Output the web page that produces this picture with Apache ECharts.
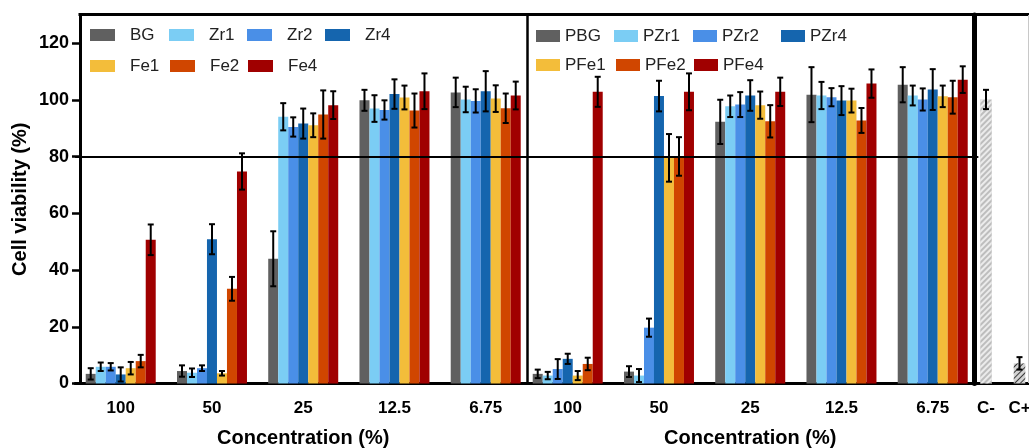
<!DOCTYPE html>
<html>
<head>
<meta charset="utf-8">
<script src="https://cdn.jsdelivr.net/npm/echarts@6/dist/echarts.min.js"></script>
<style>
html,body{margin:0;padding:0;background:#fff;}
#chart{width:1029px;height:448px;}
</style>
</head>
<body>
<div id="chart"></div>
<script>
// ---------------- DATA ----------------
const categories = ['100', '50', '25', '12.5', '6.75'];
const controlCategories = ['C-', 'C+'];
const yTicks = [0, 20, 40, 60, 80, 100, 120];
const thresholdValue = 80;

const leftNames = ['BG', 'Zr1', 'Zr2', 'Zr4', 'Fe1', 'Fe2', 'Fe4'];
const midNames = ['PBG', 'PZr1', 'PZr2', 'PZr4', 'PFe1', 'PFe2', 'PFe4'];

const BG   = [3.4, 4.4, 44.0, 99.9, 102.7];
const Zr1  = [5.9, 3.8, 94.1, 97.0, 100.2];
const Zr2  = [5.9, 5.4, 90.5, 96.5, 99.7];
const Zr4  = [3.2, 50.9, 91.7, 102.1, 103.1];
const Fe1  = [5.4, 3.6, 91.1, 100.9, 100.5];
const Fe2  = [7.9, 33.4, 94.9, 96.3, 97.1];
const Fe4  = [50.7, 74.8, 98.2, 103.1, 101.6];

const BG_err  = [2.0, 2.0, 9.7, 3.7, 5.2];
const Zr1_err = [1.5, 1.5, 4.8, 4.7, 4.5];
const Zr2_err = [1.3, 1.0, 3.4, 3.4, 4.1];
const Zr4_err = [2.5, 5.3, 5.3, 5.2, 7.1];
const Fe1_err = [2.2, 0.8, 4.2, 4.2, 4.7];
const Fe2_err = [2.2, 4.2, 8.5, 6.0, 5.2];
const Fe4_err = [5.4, 6.4, 4.9, 6.3, 4.9];

const PBG  = [3.4, 4.2, 92.3, 101.9, 105.4];
const PZr1 = [2.8, 2.8, 97.8, 101.6, 101.6];
const PZr2 = [5.1, 19.7, 98.4, 101.0, 100.2];
const PZr4 = [8.7, 101.4, 101.6, 99.8, 103.7];
const PFe1 = [2.8, 79.6, 98.2, 99.8, 101.3];
const PFe2 = [6.9, 80.1, 92.5, 92.8, 101.0];
const PFe4 = [102.9, 102.9, 102.9, 105.8, 107.2];

const PBG_err  = [1.5, 1.9, 7.8, 9.7, 6.2];
const PZr1_err = [1.3, 2.3, 3.8, 4.8, 3.5];
const PZr2_err = [3.5, 3.2, 4.4, 3.2, 3.9];
const PZr4_err = [1.8, 5.4, 5.4, 5.1, 7.2];
const PFe1_err = [1.6, 8.4, 4.8, 4.2, 3.8];
const PFe2_err = [2.2, 6.8, 5.7, 4.4, 5.8];
const PFe4_err = [5.3, 6.5, 5.0, 5.0, 4.7];

const controlValues = [100.2, 7.1];
const controlErr = [3.4, 2.2];

// ---------------- STYLE ----------------
const colors = ['#606060', '#7bcdf4', '#4a8fe7', '#1565ae', '#f3bd3a', '#d04600', '#a00000'];
const FONT = 'Arial, "Liberation Sans", Helvetica, sans-serif';
const BAR_W = 10;
const CTRL_W = 11.5;

const leftVals = [BG, Zr1, Zr2, Zr4, Fe1, Fe2, Fe4];
const leftErrs = [BG_err, Zr1_err, Zr2_err, Zr4_err, Fe1_err, Fe2_err, Fe4_err];
const midVals = [PBG, PZr1, PZr2, PZr4, PFe1, PFe2, PFe4];
const midErrs = [PBG_err, PZr1_err, PZr2_err, PZr4_err, PFe1_err, PFe2_err, PFe4_err];

const grids = [
  { left: 75.1, width: 456.25, top: 15, height: 368.5, outerBoundsMode: 'none', containLabel: false },
  { left: 522.1, width: 456.25, top: 15, height: 368.5, outerBoundsMode: 'none', containLabel: false },
  { left: 969.25, width: 67, top: 15, height: 368.5, outerBoundsMode: 'none', containLabel: false }
];

function xAxisFor(gi, data, showName) {
  return {
    type: 'category', gridIndex: gi, data: data,
    axisLine: { lineStyle: { color: '#000', width: 3 } },
    axisTick: { alignWithLabel: true, length: 9, lineStyle: { color: '#000', width: 2.5 } },
    axisLabel: { color: '#000', fontSize: 17, fontWeight: 'bold', fontFamily: FONT, margin: 16, hideOverlap: false },
    name: showName ? 'Concentration (%)' : '',
    nameLocation: 'middle', nameGap: 45,
    nameTextStyle: { color: '#000', fontSize: 20, fontWeight: 'bold', fontFamily: FONT },
    splitLine: { show: false }
  };
}
function yAxisFor(gi, offset, lineW, showLabels) {
  return {
    type: 'value', gridIndex: gi, min: 0, max: 130, offset: offset,
    axisLine: { show: true, lineStyle: { color: '#000', width: lineW } },
    axisTick: { show: showLabels, length: 8, customValues: yTicks, lineStyle: { color: '#000', width: 2.5 } },
    axisLabel: { show: showLabels, customValues: yTicks, color: '#000', fontSize: 18, fontWeight: 'bold', fontFamily: FONT, margin: 11 },
    splitLine: { show: false },
    name: showLabels ? 'Cell viability (%)' : '',
    nameLocation: 'middle', nameGap: 50,
    nameTextStyle: { color: '#000', fontSize: 20, fontWeight: 'bold', fontFamily: FONT }
  };
}

function errRenderer(n, w) {
  return function (params, api) {
    const k = api.value(3);
    const lo = api.coord([api.value(0), api.value(1)]);
    const hi = api.coord([api.value(0), api.value(2)]);
    const x = lo[0] + (k - (n - 1) / 2) * w;
    const cap = 3;
    const st = { stroke: '#000', lineWidth: 2 };
    return {
      type: 'group',
      children: [
        { type: 'line', shape: { x1: x, y1: lo[1], x2: x, y2: hi[1] }, style: st },
        { type: 'line', shape: { x1: x - cap, y1: lo[1], x2: x + cap, y2: lo[1] }, style: st },
        { type: 'line', shape: { x1: x - cap, y1: hi[1], x2: x + cap, y2: hi[1] }, style: st }
      ]
    };
  };
}

const series = [];
function addPanel(gi, names, vals, errs) {
  names.forEach((nm, k) => {
    const s = {
      name: nm, type: 'bar', xAxisIndex: gi, yAxisIndex: gi,
      data: vals[k], barWidth: BAR_W, barGap: '0%',
      itemStyle: { color: colors[k] }, z: 2
    };
    if (k === 0) {
      s.markLine = {
        silent: true, symbol: 'none', z: 5,
        label: { show: false },
        lineStyle: { color: '#000', width: 2, type: 'solid' },
        data: [{ yAxis: thresholdValue }]
      };
    }
    series.push(s);
  });
  const ed = [];
  names.forEach((nm, k) => {
    vals[k].forEach((v, i) => ed.push([i, v - errs[k][i], v + errs[k][i], k]));
  });
  series.push({
    type: 'custom', xAxisIndex: gi, yAxisIndex: gi, z: 6, silent: true,
    renderItem: errRenderer(names.length, BAR_W), data: ed
  });
}
addPanel(0, leftNames, leftVals, leftErrs);
addPanel(1, midNames, midVals, midErrs);

// control panel
series.push({
  name: 'control', type: 'bar', xAxisIndex: 2, yAxisIndex: 2, barWidth: CTRL_W,
  data: controlValues.map((v, i) => ({
    value: v,
    itemStyle: i === 0
      ? { color: '#bdbdbd', decal: { symbol: 'rect', symbolSize: 1, color: 'rgba(255,255,255,0.7)', dashArrayX: [1, 0], dashArrayY: [2, 2], rotation: -Math.PI / 4 } }
      : { color: '#d2d2d2', decal: { symbol: 'rect', symbolSize: 1, color: 'rgba(30,30,30,0.85)', dashArrayX: [1, 0], dashArrayY: [1, 3], rotation: -Math.PI / 4 } }
  })),
  z: 2
});
series.push({
  type: 'custom', xAxisIndex: 2, yAxisIndex: 2, z: 6, silent: true,
  renderItem: errRenderer(1, CTRL_W),
  data: controlValues.map((v, i) => [i, v - controlErr[i], v + controlErr[i], 0])
});

// legends (one per item, laid out in a grid like the original)
const legends = [];
const leftLegendPos = [[90, 26.5], [169, 26.5], [247, 26.5], [325, 26.5], [90, 57.5], [170, 57.5], [248, 57.5]];
const midLegendPos = [[536, 27.5], [614, 27.5], [693, 27.5], [781, 27.5], [536, 56.5], [616, 56.5], [694, 56.5]];
leftNames.forEach((nm, k) => legends.push({
  data: [nm], left: leftLegendPos[k][0], top: leftLegendPos[k][1], padding: 0, itemGap: 0,
  itemWidth: 25, itemHeight: 12, icon: 'rect', selectedMode: false,
  textStyle: { fontSize: 17, lineHeight: 17, fontFamily: FONT, color: '#222', padding: [0, 0, 0, 10] }
}));
midNames.forEach((nm, k) => legends.push({
  data: [nm], left: midLegendPos[k][0], top: midLegendPos[k][1], padding: 0, itemGap: 0,
  itemWidth: 24, itemHeight: 12, icon: 'rect', selectedMode: false,
  textStyle: { fontSize: 17, lineHeight: 17, fontFamily: FONT, color: '#222' }
}));

const option = {
  animation: false,
  backgroundColor: '#fff',
  grid: grids,
  xAxis: [xAxisFor(0, categories, true), xAxisFor(1, categories, true), xAxisFor(2, controlCategories, false)],
  yAxis: [yAxisFor(0, -4.9, 3, true), yAxisFor(1, -4.9, 2.5, false), yAxisFor(2, -4.75, 5, false)],
  legend: legends,
  series: series,
  graphic: [
    { type: 'line', shape: { x1: 78.5, y1: 14.5, x2: 1029, y2: 14.5 }, style: { stroke: '#000', lineWidth: 3 }, z: 10 },
    { type: 'line', shape: { x1: 1028.5, y1: 15, x2: 1028.5, y2: 383 }, style: { stroke: '#c8c8c8', lineWidth: 1 }, z: 10 }
  ]
};

const chart = echarts.init(document.getElementById('chart'), null, { renderer: 'canvas' });
chart.setOption(option);
</script>
</body>
</html>
